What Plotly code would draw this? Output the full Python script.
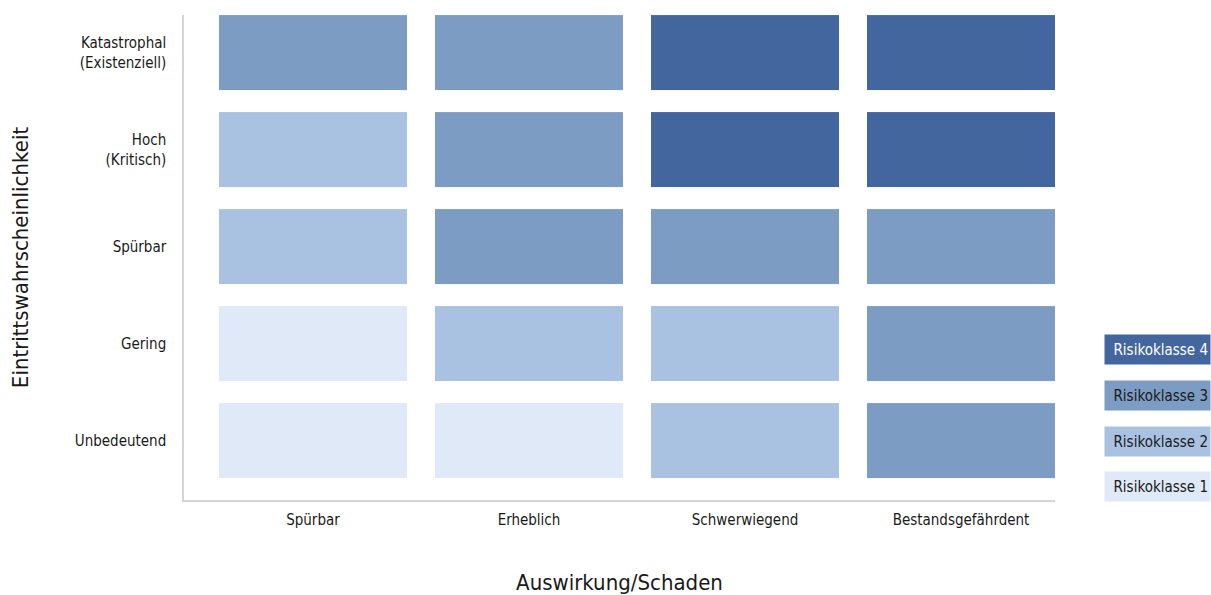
import plotly.graph_objects as go

# Risk matrix data
impact = ["Spürbar", "Erheblich", "Schwerwiegend", "Bestandsgefährdent"]
likelihood = ["Unbedeutend", "Gering", "Spürbar", "Hoch<br>(Kritisch)", "Katastrophal<br>(Existenziell)"]
# risk class per likelihood row (bottom to top) and impact column
risk_classes = [
    [1, 1, 2, 3],
    [1, 2, 2, 3],
    [2, 3, 3, 3],
    [2, 3, 4, 4],
    [3, 3, 4, 4],
]
class_labels = ["Risikoklasse 1", "Risikoklasse 2", "Risikoklasse 3", "Risikoklasse 4"]
class_colors = ["#dfe9f7", "#a9c2e2", "#7d9cc4", "#43669f"]
class_text_colors = ["#1a1a1a", "#1a1a1a", "#1a1a1a", "#ffffff"]

FONT = "Liberation Sans Narrow, DejaVu Sans Condensed, Roboto Condensed, sans-serif"

W, H = 1211, 595
ML, MR, MT, MB = 184, 156, 15, 95
PW, PH = W - ML - MR, H - MT - MB

# discrete colour scale: one flat band per class
n = len(class_colors)
colorscale = []
for i, c in enumerate(class_colors):
    colorscale.append([i / n, c])
    colorscale.append([(i + 1) / n, c])

fig = go.Figure(
    go.Heatmap(
        x=impact,
        y=[lbl.replace("<br>", " ") for lbl in likelihood],
        z=risk_classes,
        zmin=0.5,
        zmax=n + 0.5,
        colorscale=colorscale,
        showscale=False,
        xgap=28,
        ygap=22,
        hoverinfo="skip",
    )
)

# legend boxes drawn as annotations, stacked from bottom to top (pixel centres)
legend_cx = 1157.5
legend_cy = [486, 441, 395, 349]
for lbl, col, tcol, py in zip(class_labels, class_colors, class_text_colors, legend_cy):
    fig.add_annotation(
        x=(legend_cx - ML) / PW,
        y=(H - MB - py) / PH,
        xref="paper",
        yref="paper",
        text=lbl,
        showarrow=False,
        bgcolor=col,
        width=101,
        height=25,
        borderpad=2,
        align="right",
        font=dict(family=FONT, size=15, color=tcol),
        xanchor="center",
        yanchor="middle",
    )

fig.update_layout(
    width=W,
    height=H,
    margin=dict(l=ML, r=MR, t=MT, b=MB),
    paper_bgcolor="white",
    plot_bgcolor="white",
    font=dict(family=FONT, size=15, color="#1a1a1a"),
    showlegend=False,
)

fig.update_xaxes(
    type="category",
    range=[-0.597, 3.435],
    automargin=False,
    showgrid=False,
    zeroline=False,
    showline=True,
    linecolor="#d4d4d4",
    linewidth=1.5,
    ticks="",
    ticklabelstandoff=5,
    tickfont=dict(family=FONT, size=15, color="#1a1a1a"),
    title=dict(text="Auswirkung/Schaden", font=dict(family=FONT, size=22, color="#1a1a1a"), standoff=48),
)
fig.update_yaxes(
    type="category",
    range=[-0.613, 4.387],
    automargin=False,
    tickmode="array",
    tickvals=[lbl.replace("<br>", " ") for lbl in likelihood],
    ticktext=likelihood,
    showgrid=False,
    zeroline=False,
    showline=True,
    linecolor="#d4d4d4",
    linewidth=1.5,
    ticks="",
    ticklabelstandoff=13,
    tickfont=dict(family=FONT, size=15, color="#1a1a1a"),
    title=dict(text="Eintrittswahrscheinlichkeit", font=dict(family=FONT, size=22, color="#1a1a1a"), standoff=40),
)

fig.write_html("out.html")
